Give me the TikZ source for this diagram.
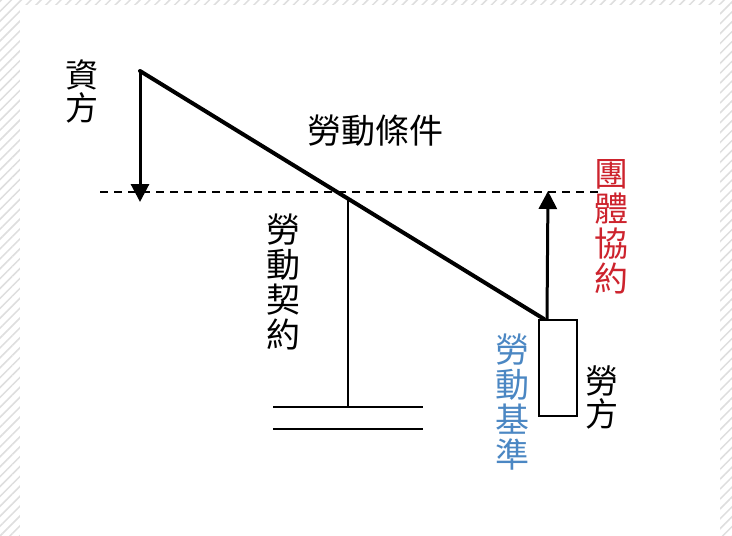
\documentclass[tikz,border=0pt]{standalone}
\usepackage{fontspec}
\newfontfamily\cjk{Noto Sans CJK TC}
\usetikzlibrary{arrows.meta,patterns.meta,positioning,calc}
\definecolor{pactred}{RGB}{205,35,45}
\definecolor{lawblue}{RGB}{75,135,195}
\definecolor{hatchgray}{RGB}{222,222,222}

\begin{document}
\begin{tikzpicture}[x=1pt, y=-1pt,
  vtext/.style={align=center, inner sep=0pt, font=\cjk\fontsize{34}{35}\selectfont},
  shorttext/.style={align=center, inner sep=0pt, font=\cjk\fontsize{33}{33}\selectfont},
  lever/.style={line width=4pt, line cap=round, line join=round},
  force/.style={line width=3pt, -{Triangle[width=18pt,length=18pt]}},
  thinline/.style={line width=2pt}]
% 背景
\useasboundingbox (0,0) rectangle (732,536);
\fill[white] (0,0) rectangle (732,536);
\fill[pattern={Lines[angle=45,distance=7pt,line width=1.5pt]}, pattern color=hatchgray] (0,0) rectangle (732,536);
\fill[white] (20,5) rectangle (720,536);

% 點
\coordinate (top) at (140,71);
\coordinate (pivot) at (348,198);
\coordinate (ground) at (348,407);
\coordinate (dashL) at (100,192);
\coordinate (dashR) at (598,192);
\coordinate (g1L) at (273,407);
\coordinate (g1R) at (423,407);
\coordinate (g2L) at (273,429);
\coordinate (g2R) at (423,429);
\coordinate (downend) at (140,202);
\coordinate (upend) at (548,191);

% 勞方方塊
\node[draw, line width=2pt, minimum width=38pt, minimum height=96pt, inner sep=0pt] (labour) at (558,368) {};
\coordinate (leverend) at ($(labour.north west)+(6,0)$);
\coordinate (upstart) at ($(labour.north west)+(9,0)$);

% 文字
\node[shorttext] (capital) at (82,91) {資\\方};
\node[vtext] (conditions) at (375,131) {勞動條件};
\node[vtext] (contract) at (283,282) {勞\\動\\契\\約};
\node[vtext, text=pactred] (pact) at (611,227) {團\\體\\協\\約};
\node[vtext, text=lawblue] (standard) at (512,402) {勞\\動\\基\\準};
\node[shorttext] (worker) at (602,397) {勞\\方};

% 線
\draw[thinline, dash pattern=on 8pt off 6pt, line width=1.5pt] (dashL) -- (dashR);
\draw[lever] (top) -- (leverend);
\draw[force] (top) -- (downend);
\draw[force] (upstart) -- (upend);
\draw[thinline] (pivot) -- (ground);
\draw[thinline, line width=2.5pt] (g1L) -- (g1R);
\draw[thinline, line width=2.5pt] (g2L) -- (g2R);
\end{tikzpicture}
\end{document}
